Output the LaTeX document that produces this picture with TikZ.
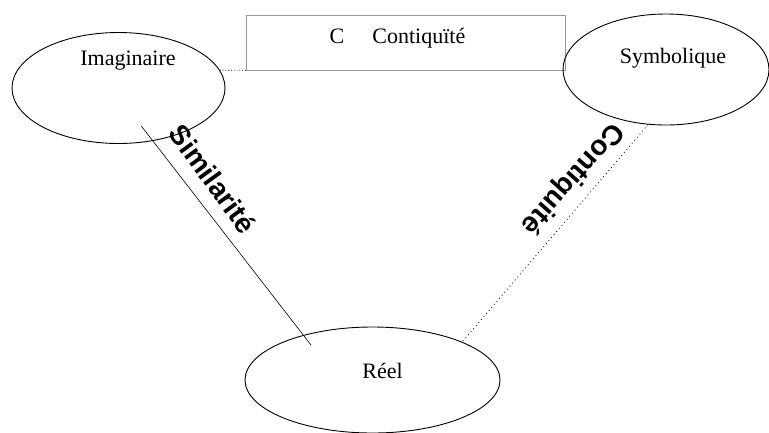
\documentclass[tikz,border=0pt]{standalone}
\usepackage{fontspec}
\setmainfont{Liberation Serif}
\newfontfamily\linkfont{Liberation Sans}
\usetikzlibrary{shapes.geometric}

\begin{document}
\begin{tikzpicture}[x=1pt, y=-1pt,
    region/.style={ellipse, draw, line width=0.9pt, inner sep=0pt},
    regname/.style={anchor=base, font=\fontsize{22}{26}\selectfont},
    linklabel/.style={font=\linkfont\bfseries\fontsize{28}{32}\selectfont}]
    \useasboundingbox (0,0) rectangle (769,432);

    % Box {C Contiquite}
    \node [draw=black!40, minimum width=319pt, minimum height=55pt] (box) at (405.5,42.5) {};
    \node [regname] (boxtxt) at (397.5,43) {C\hspace{28pt}Contiquïté};

    % Nodes {imag, symb, reel}
    \node [region, minimum width=213pt, minimum height=111pt] (imag) at (118.5,88) {};
    \node [region, minimum width=206pt, minimum height=111pt] (symb) at (666,69.5) {};
    \node [region, minimum width=255pt, minimum height=106pt] (reel) at (372.5,380) {};
    \node [regname] (imagtxt) at (128,65)    {Imaginaire};
    \node [regname] (symbtxt) at (673,63)    {Symbolique};
    \node [regname] (reeltxt) at (382.5,378) {Réel};

    % Paths
    \path [draw, dotted, line width=0.8pt] (imag.10) -- (box.south west);
    \path [draw, line width=0.6pt, shorten <=-19pt, shorten >=-13pt] (imag.-57) -- (reel.147);
    \path [draw, line width=0.7pt, dash pattern=on 1pt off 3pt] (symb.-108) -- (reel.23);

    % Labels
    \node [linklabel, rotate=-54]    (simlab)  at (213,179) {Similarité};
    \node [linklabel, rotate=-131.6] (contlab) at (572,178) {Contiquité};
\end{tikzpicture}
\end{document}
